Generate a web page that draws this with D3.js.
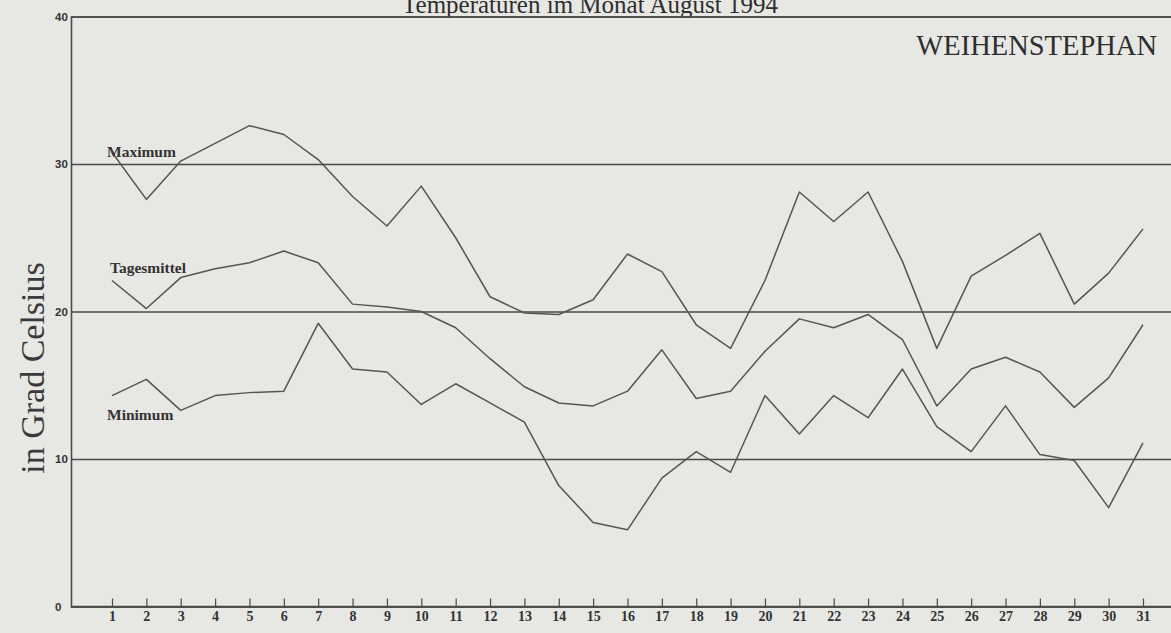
<!DOCTYPE html>
<html>
<head>
<meta charset="utf-8">
<script src="https://cdn.jsdelivr.net/npm/d3@7"></script>
<style>
  body { margin: 0; background: #e7e7e4; overflow: hidden; }
  svg { display: block; }
</style>
</head>
<body>
<div id="chart_div"></div>
<script>
// Temperaturen im Monat August 1994 - Weihenstephan

var days = d3.range(1, 32);
var y_ticks = [0, 10, 20, 30, 40];

var maximum = [30.8, 27.6, 30.2, 31.4, 32.6, 32.0, 30.3, 27.8, 25.8, 28.5,
               25.0, 21.0, 19.9, 19.8, 20.8, 23.9, 22.7, 19.1, 17.5, 22.1,
               28.1, 26.1, 28.1, 23.4, 17.5, 22.4, 23.8, 25.3, 20.5, 22.6, 25.6];
var mittel = [22.1, 20.2, 22.3, 22.9, 23.3, 24.1, 23.3, 20.5, 20.3, 20.0,
              18.9, 16.8, 14.9, 13.8, 13.6, 14.6, 17.4, 14.1, 14.6, 17.3,
              19.5, 18.9, 19.8, 18.1, 13.6, 16.1, 16.9, 15.9, 13.5, 15.5, 19.1];
var minimum = [14.3, 15.4, 13.3, 14.3, 14.5, 14.6, 19.2, 16.1, 15.9, 13.7,
               15.1, 13.8, 12.5, 8.2, 5.7, 5.2, 8.7, 10.5, 9.1, 14.3,
               11.7, 14.3, 12.8, 16.1, 12.2, 10.5, 13.6, 10.3, 9.9, 6.7, 11.1];

var series = [
  {name: 'Maximum', values: maximum, lx: 107, ly: 157},
  {name: 'Tagesmittel', values: mittel, lx: 110, ly: 273},
  {name: 'Minimum', values: minimum, lx: 107, ly: 420}
];

var w = 1171;
var h = 633;
var ink = '#4a4a4a';

var left = 71;
var x = d3.scaleLinear().domain([1, 31]).range([112, 1143]);
var y = d3.scaleLinear().domain([0, 40]).range([606.5, 16.5]);

var the_svg = d3.select('#chart_div')
  .append('svg')
    .attr('width', w)
    .attr('height', h);

the_svg.append('rect')
  .attr('width', w)
  .attr('height', h)
  .attr('fill', '#e7e7e4');

// title, partly cut at the top edge like the scan
the_svg.append('text')
  .attr('x', 590)
  .attr('y', 13)
  .attr('text-anchor', 'middle')
  .attr('font-family', 'Liberation Serif')
  .attr('font-size', 25)
  .attr('fill', '#2e2e2e')
  .text('Temperaturen im Monat August 1994');

the_svg.append('text')
  .attr('x', 1157)
  .attr('y', 55)
  .attr('text-anchor', 'end')
  .attr('font-family', 'Liberation Serif')
  .attr('font-size', 28.5)
  .attr('fill', '#2e2e2e')
  .text('WEIHENSTEPHAN');

the_svg.append('text')
  .attr('transform', 'translate(44,' + 368 + ') rotate(-90)')
  .attr('text-anchor', 'middle')
  .attr('font-family', 'Liberation Serif')
  .attr('font-size', 34)
  .attr('fill', '#3a3a3a')
  .text('in Grad Celsius');

// horizontal lines at every ten degrees
var grid = d3.axisLeft(y)
  .tickValues(y_ticks)
  .tickSize(-(w - left))
  .tickFormat('');

the_svg.append('g')
  .attr('transform', 'translate(' + left + ',0)')
  .call(grid)
  .call(function(g) {
    g.select('.domain').attr('stroke', ink).attr('stroke-width', 1.6);
    g.selectAll('.tick line').attr('stroke', ink).attr('stroke-width', 1.5);
  });

// y labels sit left of the frame
var y_axis = d3.axisLeft(y)
  .tickValues(y_ticks)
  .tickSize(0)
  .tickPadding(0);

the_svg.append('g')
  .attr('transform', 'translate(' + left + ',0)')
  .call(y_axis)
  .call(function(g) {
    g.select('.domain').remove();
    g.selectAll('text')
      .attr('x', -16)
      .attr('text-anchor', 'start')
      .attr('font-family', 'Liberation Sans')
      .attr('font-weight', 'bold')
      .attr('font-size', 11.5)
      .attr('fill', '#333');
  });

// day axis, ticks point up
var x_axis = d3.axisBottom(x)
  .tickValues(days)
  .tickSize(-8)
  .tickPadding(5)
  .tickFormat(d3.format('d'));

the_svg.append('g')
  .attr('transform', 'translate(0,' + y(0) + ')')
  .call(x_axis)
  .call(function(g) {
    g.select('.domain').remove();
    g.selectAll('.tick line').attr('stroke', ink).attr('stroke-width', 1.2);
    g.selectAll('text')
      .attr('font-family', 'Liberation Serif')
      .attr('font-weight', 'bold')
      .attr('font-size', 14)
      .attr('fill', '#333');
  });

the_svg.append('line')
  .attr('x1', left)
  .attr('x2', w)
  .attr('y1', y(0))
  .attr('y2', y(0))
  .attr('stroke', ink)
  .attr('stroke-width', 1.6);

var line = d3.line()
  .x(function(d, i) { return x(days[i]); })
  .y(function(d) { return y(d); });

for (var i = 0; i < series.length; i++) {
  the_svg.append('path')
    .datum(series[i].values)
    .attr('d', line)
    .attr('fill', 'none')
    .attr('stroke', '#555')
    .attr('stroke-width', 1.5)
    .attr('stroke-linejoin', 'round');

  the_svg.append('text')
    .attr('x', series[i].lx)
    .attr('y', series[i].ly)
    .attr('font-family', 'Liberation Serif')
    .attr('font-weight', 'bold')
    .attr('font-size', 15.5)
    .attr('fill', '#333')
    .text(series[i].name);
}
</script>
</body>
</html>
